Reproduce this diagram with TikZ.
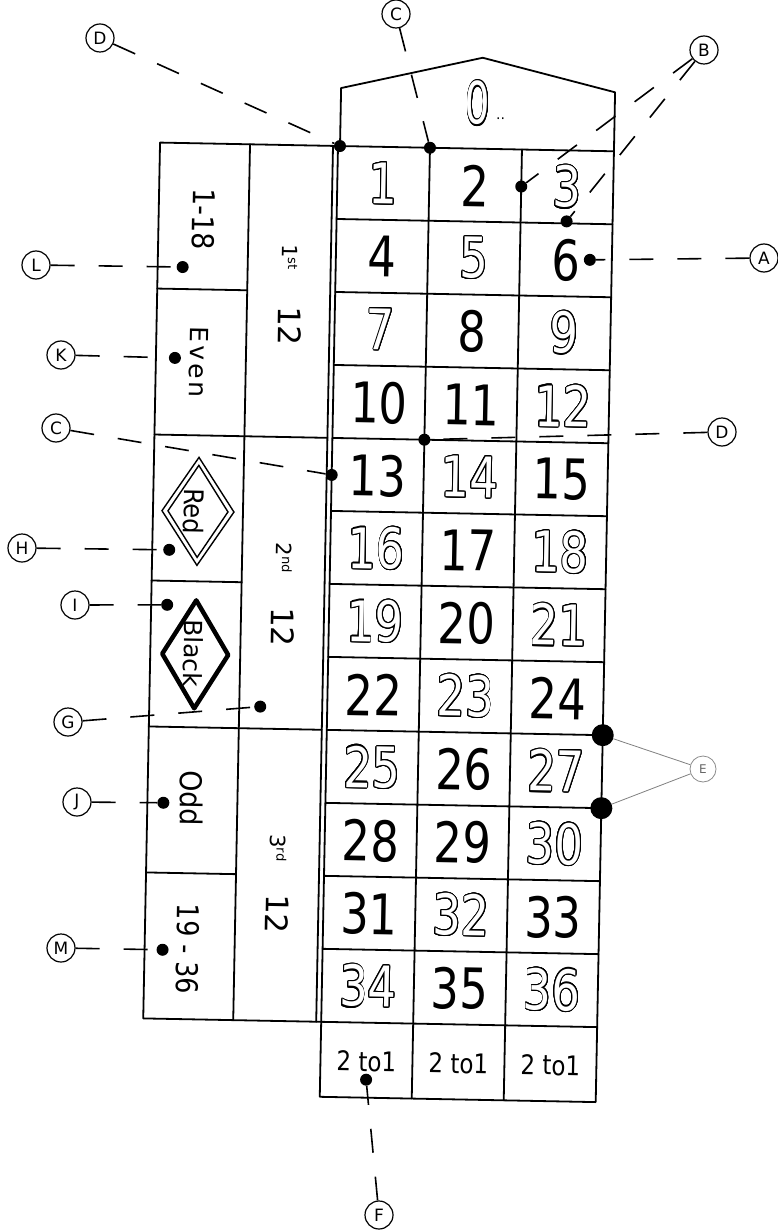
\documentclass[tikz,border=0pt]{standalone}
\usepackage{fontspec}
\setmainfont{DejaVu Sans}
\usepackage{graphicx}
\usepackage{contour}
\contourlength{1.1pt}
\contournumber{24}
\newcommand\digb[1]{\scalebox{0.8}[1]{#1}}
\newcommand\digr[1]{\scalebox{0.8}[1]{\contour{black}{\textcolor{white}{#1}}}}
\newcommand\fs[1]{\fontsize{#1}{#1}\selectfont}
\tikzset{
  gridline/.style={line width=1.8pt, line cap=round, line join=round},
  num/.style={inner sep=0pt, font=\fs{56}},
  ltxt/.style={rotate=-90, inner sep=0pt},
  dotmark/.style={circle, fill=black, inner sep=0pt, minimum size=12pt},
  bigdot/.style={circle, fill=black, inner sep=0pt, minimum size=22pt},
  callout/.style={circle, draw, line width=1.2pt, minimum size=28pt, inner sep=0pt, font=\fs{17}},
  callgray/.style={circle, draw=black!45, line width=0.8pt, minimum size=26pt, inner sep=0pt, text=black!60, font=\fs{12}},
  calldash/.style={line width=1.6pt, dash pattern=on 24pt off 24pt},
  callthin/.style={line width=0.8pt, draw=black!50}
}
\begin{document}
\begin{tikzpicture}[x=1pt,y=-1pt]
\fill[white] (0,0) rectangle (778,1230);
\useasboundingbox (0,0) rectangle (778,1230);

\begin{scope}[rotate around={-1.1:(338,146)}, every node/.append style={transform shape}]
  % number grid
  \draw[gridline] (338,146) rectangle (614,1097);
  \foreach \yy in {219,292,...,1022} \draw[gridline] (338,\yy) -- (614,\yy);
  \draw[gridline] (430,146) -- (430,1097);
  \draw[gridline] (522,146) -- (522,1097);
  % zero
  \draw[gridline] (340,146) -- (340,88) -- (481,55) -- (614,87) -- (614,146);
  \node[num, font=\fs{58}] (zero) at (477,101) {\scalebox{0.85}[1]{\digr{0}}};
  \node[inner sep=0pt, font=\fs{14}] (zdots) at (500,116) {..};
  % left block
  \draw[gridline] (160,146) rectangle (333,1022);
  \draw[gridline] (333,146) -- (338,146);
  \draw[gridline] (333,1022) -- (338,1022);
  \draw[gridline] (250,146) -- (250,1022);
  \foreach \yy in {292,584,876} \draw[gridline] (160,\yy) -- (250,\yy);
  \foreach \yy in {438,730} \draw[gridline] (160,\yy) -- (333,\yy);
  % diamonds
  \draw[line width=1.4pt] (205,460) -- (241,514) -- (205,568) -- (169,514) -- cycle;
  \draw[line width=1.4pt] (205,468) -- (235,514) -- (205,560) -- (175,514) -- cycle;
  \draw[line width=4.5pt, line join=round] (205,603) -- (238,657) -- (205,711) -- (172,657) -- cycle;
  % numbers
  \foreach \n/\kind in {1/r,2/b,3/r,4/b,5/r,6/b,7/r,8/b,9/r,10/b,11/b,12/r,
                        13/b,14/r,15/b,16/r,17/b,18/r,19/r,20/b,21/r,22/b,23/r,24/b,
                        25/r,26/b,27/r,28/b,29/b,30/r,31/b,32/r,33/b,34/r,35/b,36/r}{
    \pgfmathtruncatemacro\colm{mod(\n-1,3)}
    \pgfmathtruncatemacro\rowm{int((\n-1)/3)}
    \node[num] (n\n) at ({384+92*\colm},{183+73*\rowm}) {\csname dig\kind\endcsname{\n}};
  }
  % column bets
  \foreach \i/\xx in {1/384,2/476,3/568}
    \node[inner sep=0pt, font=\fs{27}] (col\i) at (\xx,1061) {\scalebox{0.85}[1]{2 to1}};
  % outside bets
  \node[ltxt, font=\fs{30}] (t118) at (205,222) {\scalebox{0.9}[1]{1-18}};
  \node[ltxt, font=\fs{25}] (teven) at (203,365) {E\kern3pt v\kern3pt e\kern3pt n};
  \node[ltxt, font=\fs{27}] (tred) at (201,514) {\scalebox{0.9}[1]{Red}};
  \node[ltxt, font=\fs{25}] (tblack) at (203,656) {Black};
  \node[ltxt, font=\fs{30}] (todd) at (204,801) {\scalebox{0.9}[1]{Odd}};
  \node[ltxt, font=\fs{30}] (t1936) at (203,952) {\scalebox{0.85}[1]{19 - 36}};
  \node[ltxt, font=\fs{21}] (t1st) at (292,258) {1{\fs{13}\raisebox{6pt}{st}}};
  \node[ltxt, font=\fs{31}] (t12a) at (293,327) {12};
  \node[ltxt, font=\fs{21}] (t2nd) at (292,559) {2{\fs{13}\raisebox{6pt}{nd}}};
  \node[ltxt, font=\fs{31}] (t12b) at (292,628) {12};
  \node[ltxt, font=\fs{21}] (t3rd) at (292,849) {3{\fs{13}\raisebox{6pt}{rd}}};
  \node[ltxt, font=\fs{31}] (t12c) at (292,915) {12};
  % marker dots
  \node[dotmark] (dD1) at (340,146) {};
  \node[dotmark] (dC1) at (430,146) {};
  \node[dotmark] (dB1) at (522,183) {};
  \node[dotmark] (dB2) at (568,217) {};
  \node[dotmark] (dA) at (592,255) {};
  \node[dotmark] (dL) at (185,270) {};
  \node[dotmark] (dK) at (179,361) {};
  \node[dotmark] (dC2) at (338,475) {};
  \node[dotmark] (dD2) at (430,438) {};
  \node[dotmark] (dH) at (177,553) {};
  \node[dotmark] (dI) at (176,608) {};
  \node[dotmark] (dG) at (271,708) {};
  \node[bigdot] (dE1) at (614,730) {};
  \node[bigdot] (dE2) at (614,803) {};
  \node[dotmark] (dJ) at (176,806) {};
  \node[dotmark] (dM) at (178,953) {};
  \node[dotmark] (dF) at (384,1079) {};
\end{scope}

% callout circles
\node[callout] (cD1) at (100,38) {D};
\node[callout] (cC1) at (396,14) {C};
\node[callout] (cB) at (704,50) {B};
\node[callout] (cA) at (764,258) {A};
\node[callout] (cL) at (36,265) {L};
\node[callout] (cK) at (61,355) {K};
\node[callout] (cC2) at (56,428) {C};
\node[callout] (cD2) at (722,432) {D};
\node[callout] (cH) at (22,548) {H};
\node[callout] (cI) at (75,605) {I};
\node[callout] (cG) at (68,722) {G};
\node[callgray] (cE) at (703,769) {E};
\node[callout] (cJ) at (77,802) {J};
\node[callout] (cM) at (61,948) {M};
\node[callout] (cF) at (379,1215) {F};

% connectors
\draw[calldash] (cD1) -- (dD1);
\draw[calldash] (cC1) -- (dC1);
\draw[calldash] (cB) -- (dB1);
\draw[calldash] (cB) -- (dB2);
\draw[calldash] (cA) -- (dA);
\draw[calldash] (cL) -- (dL);
\draw[calldash] (cK) -- (dK);
\draw[calldash] (cC2) -- (dC2);
\draw[calldash] (cD2) -- (dD2);
\draw[calldash] (cH) -- (dH);
\draw[calldash] (cI) -- (dI);
\draw[calldash] (cG) -- (dG);
\draw[callthin] (cE) -- (dE1);
\draw[callthin] (cE) -- (dE2);
\draw[calldash] (cJ) -- (dJ);
\draw[calldash] (cM) -- (dM);
\draw[calldash] (cF) -- (dF);
\end{tikzpicture}
\end{document}
